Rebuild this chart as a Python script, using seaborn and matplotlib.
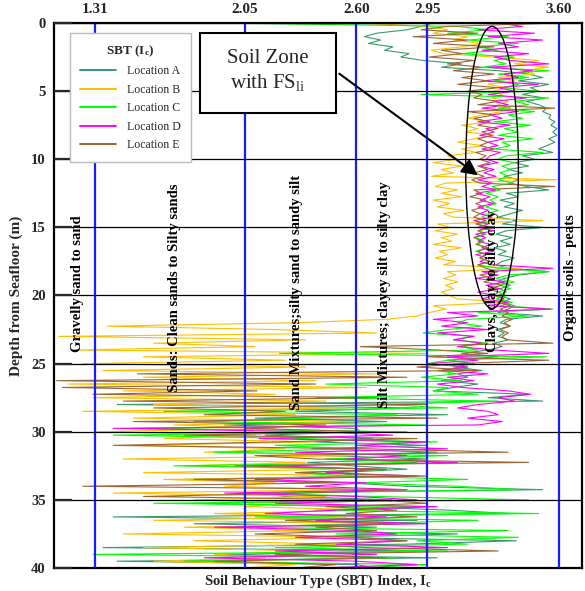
import pandas as pd
import numpy as np
import matplotlib
matplotlib.use("Agg")
import matplotlib.pyplot as plt
import matplotlib.patches as patches
import seaborn as sns

# ---------------------------------------------
# Data (SBT index vs depth)
# ---------------------------------------------
depth = [
    0.0, 0.25, 0.5, 0.75, 1.0, 1.25, 1.5, 1.75,
    2.0, 2.25, 2.5, 2.75, 3.0, 3.25, 3.5, 3.75,
    4.0, 4.25, 4.5, 4.75, 5.0, 5.25, 5.5, 5.75,
    6.0, 6.25, 6.5, 6.75, 7.0, 7.25, 7.5, 7.75,
    8.0, 8.25, 8.5, 8.75, 9.0, 9.25, 9.5, 9.75,
    10.0, 10.25, 10.5, 10.75, 11.0, 11.25, 11.5, 11.75,
    12.0, 12.25, 12.5, 12.75, 13.0, 13.25, 13.5, 13.75,
    14.0, 14.25, 14.5, 14.75, 15.0, 15.25, 15.5, 15.75,
    16.0, 16.25, 16.5, 16.75, 17.0, 17.25, 17.5, 17.75,
    18.0, 18.25, 18.5, 18.75, 19.0, 19.25, 19.5, 19.75,
    20.0, 20.25, 20.5, 20.75, 21.0, 21.25, 21.5, 21.75,
    22.0, 22.25, 22.5, 22.75, 23.0, 23.25, 23.5, 23.75,
    24.0, 24.25, 24.5, 24.75, 25.0, 25.25, 25.5, 25.75,
    26.0, 26.25, 26.5, 26.75, 27.0, 27.25, 27.5, 27.75,
    28.0, 28.25, 28.5, 28.75, 29.0, 29.25, 29.5, 29.75,
    30.0, 30.25, 30.5, 30.75, 31.0, 31.25, 31.5, 31.75,
    32.0, 32.25, 32.5, 32.75, 33.0, 33.25, 33.5, 33.75,
    34.0, 34.25, 34.5, 34.75, 35.0, 35.25, 35.5, 35.75,
    36.0, 36.25, 36.5, 36.75, 37.0, 37.25, 37.5, 37.75,
    38.0, 38.25, 38.5, 38.75, 39.0, 39.25, 39.5, 39.75,
    40.0,
]

loc_a = [
    2.98, 2.92, 2.85, 2.70, 2.64, 2.72, 2.66, 2.78,
    2.74, 2.86, 2.82, 2.93, 3.12, 3.02, 3.30, 3.45,
    3.52, 3.40, 3.55, 3.46, 3.50, 3.42, 3.53, 3.44,
    3.50, 3.54, 3.52, 3.56, 3.55, 3.58, 3.56, 3.59,
    3.57, 3.59, 3.55, 3.58, 3.54, 3.50, 3.57, 3.42,
    3.48, 3.38, 3.45, 3.35, 3.42, 3.33, 3.40, 3.36,
    3.44, 3.55, 3.34, 3.40, 3.31, 3.38, 3.33, 3.42,
    3.36, 3.30, 3.39, 3.32, 3.52, 3.34, 3.29, 3.37,
    3.31, 3.36, 3.28, 3.34, 3.30, 3.38, 3.32, 3.29,
    3.35, 3.55, 3.40, 3.33, 3.30, 3.36, 3.31, 3.34,
    3.30, 3.36, 3.32, 3.38, 3.35, 3.30, 3.52, 3.34,
    3.31, 3.36, 3.29, 3.33, 3.30, 3.35, 3.28, 3.32,
    3.25, 3.12, 3.30, 3.05, 3.18, 3.08, 3.22, 3.10,
    3.15, 3.02, 3.20, 3.08, 2.98, 3.45, 3.25, 3.52,
    1.42, 2.90, 2.30, 3.05, 2.10, 2.75, 1.95, 2.60,
    2.62, 2.15, 2.68, 2.40, 2.95, 2.38, 3.00, 2.45,
    2.95, 2.36, 2.58, 2.85, 2.50, 2.62, 1.75, 2.55,
    2.85, 3.52, 2.10, 2.25, 2.78, 1.80, 2.60, 3.05,
    3.36, 1.40, 2.90, 1.80, 2.70, 2.20, 3.10, 2.45,
    3.39, 2.85, 1.35, 2.95, 1.90, 3.00, 1.42, 2.60,
    2.70,
]

loc_b = [
    2.62, 2.95, 3.05, 2.98, 3.15, 3.08, 3.22, 3.12,
    2.97, 3.03, 3.28, 3.50, 3.38, 3.55, 3.42, 3.48,
    3.30, 3.38, 3.25, 3.34, 3.28, 3.32, 3.27, 3.35,
    3.30, 3.36, 3.32, 3.22, 3.15, 3.26, 3.12, 3.20,
    3.14, 3.28, 3.18, 3.10, 3.22, 3.12, 3.19, 3.05,
    3.10, 2.98, 3.12, 3.02, 3.08, 2.97, 3.59, 3.04,
    2.99, 3.10, 3.02, 3.12, 2.98, 3.06, 3.00, 3.13,
    3.03, 3.08, 3.52, 3.00, 3.06, 2.99, 3.10, 3.02,
    3.07, 2.98, 3.12, 3.01, 3.05, 2.99, 3.09, 3.03,
    3.41, 3.05, 3.09, 3.03, 3.10, 3.04, 3.08, 3.02,
    3.06, 3.10, 3.34, 2.98, 3.04, 2.96, 2.90, 2.75,
    2.30, 1.37, 2.20, 2.70, 1.13, 2.35, 1.60, 2.10,
    1.20, 2.95, 1.55, 2.25, 1.25, 2.35, 1.35, 2.70,
    1.55, 2.40, 1.18, 2.65, 1.45, 2.20, 1.30, 2.45,
    1.60, 2.55, 1.25, 2.30, 1.50, 2.60, 1.70, 2.20,
    1.32, 2.10, 1.65, 2.40, 1.50, 2.25, 1.85, 2.60,
    1.45, 2.35, 1.75, 2.50, 1.55, 2.80, 1.65, 2.20,
    1.95, 2.60, 1.40, 2.45, 1.80, 2.30, 2.05, 2.70,
    1.90, 2.55, 1.60, 2.85, 1.75, 2.35, 1.45, 2.65,
    1.80, 2.50, 1.55, 2.40, 1.90, 2.15, 1.60, 2.30,
    2.05,
]

loc_c = [
    1.95, 3.10, 3.25, 3.05, 3.35, 3.15, 3.40, 3.20,
    3.30, 3.12, 3.38, 3.28, 3.34, 3.22, 3.55, 3.30,
    3.45, 3.28, 3.40, 3.32, 3.50, 2.92, 3.55, 3.38,
    3.45, 3.30, 3.48, 3.35, 3.42, 3.28, 3.46, 3.33,
    3.40, 3.30, 3.47, 3.32, 3.36, 3.28, 3.52, 3.34,
    3.30, 3.38, 3.32, 3.36, 3.31, 3.35, 3.30, 3.37,
    3.27, 3.31, 3.24, 3.30, 3.26, 3.29, 3.24, 3.30,
    3.25, 3.22, 3.28, 3.20, 3.26, 3.21, 3.24, 3.19,
    3.23, 3.20, 3.25, 3.19, 3.24, 3.21, 3.26, 3.20,
    3.30, 3.55, 3.35, 3.29, 3.38, 3.31, 3.36, 3.30,
    3.34, 3.29, 3.37, 3.31, 3.57, 3.20, 3.45, 3.15,
    3.10, 3.22, 3.05, 2.93, 3.18, 3.08, 3.25, 3.12,
    3.20, 2.22, 3.54, 3.05, 2.95, 3.15, 3.00, 3.10,
    2.92, 3.12, 2.45, 3.05, 2.98, 3.20, 2.40, 3.30,
    2.75, 3.05, 1.65, 2.80, 2.40, 1.80, 2.95, 1.50,
    2.85, 1.40, 2.35, 3.00, 2.20, 2.60, 1.90, 3.05,
    2.45, 2.90, 1.70, 2.75, 2.30, 2.55, 3.15, 2.60,
    3.10, 3.40, 2.05, 2.70, 3.45, 1.60, 2.95, 2.40,
    3.50, 2.10, 3.20, 2.65, 2.00, 3.35, 2.50, 3.40,
    2.90, 3.15, 2.20, 3.05, 1.30, 2.80, 1.75, 2.95,
    2.60,
]

loc_d = [
    3.30, 3.42, 3.20, 3.48, 3.25, 3.52, 3.30, 3.40,
    3.22, 3.45, 3.28, 3.36, 3.55, 3.25, 3.47, 3.33,
    3.40, 3.22, 3.50, 3.30, 3.38, 3.25, 3.44, 3.28,
    3.35, 3.22, 3.40, 3.26, 3.32, 3.20, 3.36, 3.24,
    3.28, 3.21, 3.33, 3.25, 3.30, 3.22, 3.31, 3.26,
    3.24, 3.30, 3.21, 3.28, 3.23, 3.29, 3.20, 3.27,
    3.22, 3.29, 3.19, 3.26, 3.21, 3.28, 3.20, 3.25,
    3.21, 3.27, 3.18, 3.25, 3.20, 3.28, 3.19, 3.24,
    3.20, 3.26, 3.22, 3.28, 3.19, 3.25, 3.21, 3.27,
    3.57, 3.22, 3.30, 3.19, 3.34, 3.24, 3.31, 3.20,
    3.28, 3.22, 3.35, 3.25, 3.56, 3.05, 3.20, 2.98,
    3.15, 3.02, 3.25, 3.00, 3.18, 3.08, 3.22, 3.10,
    3.28, 3.55, 3.05, 3.20, 2.95, 3.15, 3.02, 3.25,
    3.05, 3.18, 3.00, 3.12, 3.35, 3.46, 3.30, 3.38,
    3.20, 3.10, 3.25, 3.30, 3.15, 3.32, 3.20, 1.40,
    2.40, 2.78, 2.12, 2.95, 2.60, 3.05, 2.30, 2.85,
    2.55, 3.10, 2.20, 2.70, 2.45, 2.90, 2.10, 2.65,
    2.35, 2.85, 1.95, 2.60, 2.90, 2.20, 3.00, 2.50,
    2.15, 2.75, 2.40, 2.95, 1.90, 2.60, 2.80, 2.30,
    2.85, 2.50, 3.05, 2.20, 2.70, 1.85, 2.60, 2.90,
    2.40,
]

loc_e = [
    3.59, 3.05, 2.92, 3.20, 2.88, 3.15, 2.98, 3.28,
    3.02, 3.12, 2.96, 3.18, 3.05, 3.22, 3.08, 3.28,
    3.12, 3.25, 3.10, 3.30, 3.15, 3.22, 3.18, 3.30,
    3.20, 3.58, 3.15, 3.28, 3.18, 3.26, 3.20, 3.30,
    3.22, 3.27, 3.20, 3.25, 3.21, 3.28, 3.19, 3.24,
    3.21, 3.26, 3.20, 3.25, 3.18, 3.23, 3.17, 3.21,
    3.58, 3.18, 3.22, 3.16, 3.24, 3.19, 3.23, 3.17,
    3.21, 3.18, 3.24, 3.19, 3.25, 3.20, 3.23, 3.18,
    3.22, 3.19, 3.25, 3.20, 3.24, 3.21, 3.26, 3.20,
    3.24, 3.30, 3.21, 3.28, 3.23, 3.32, 3.25, 3.30,
    3.28, 3.33, 3.30, 3.36, 3.31, 3.35, 3.32, 3.37,
    3.33, 3.36, 3.31, 3.35, 3.32, 3.34, 3.57, 2.62,
    3.00, 3.25, 2.95, 3.55, 3.10, 2.90, 3.20, 1.52,
    2.85, 1.12, 2.40, 1.15, 2.11, 1.30, 2.70, 1.45,
    2.95, 1.60, 2.25, 1.85, 3.00, 1.50, 2.45, 2.05,
    2.70, 1.75, 2.90, 2.20, 1.40, 2.65, 3.35, 2.10,
    2.40, 3.45, 2.00, 2.75, 2.30, 2.95, 1.80, 2.50,
    1.25, 2.85, 2.35, 1.55, 2.70, 2.95, 2.45, 2.80,
    2.55, 2.90, 2.25, 2.80, 2.40, 2.70, 2.10, 2.60,
    2.85, 2.30, 2.65, 3.30, 2.20, 2.75, 1.90, 2.50,
    2.30,
]

locations = ["Location A", "Location B", "Location C", "Location D", "Location E"]
colors = ["#3a9a6c", "#ffc000", "#00ff00", "#ff00ff", "#9c6633"]

# SBT zone boundaries (top axis) and zone names
sbt_bounds = [1.31, 2.05, 2.60, 2.95, 3.60]
sbt_bound_labels = ["1.31", "2.05", "2.60", "2.95", "3.60"]
depth_ticks = [0, 5, 10, 15, 20, 25, 30, 35, 40]

zone_names = [
    "Gravelly sand to sand",
    "Sands: Clean sands to Silty sands",
    "Sand Mixtures;silty sand to sandy silt",
    "Silt Mixtures; clayey silt to silty clay",
    "Clays, clay to silty clay",
    "Organic soils - peats",
]
zone_x = [1.225, 1.705, 2.305, 2.74, 3.27, 3.655]
zone_depth = [19.1, 19.4, 19.8, 19.9, 18.9, 18.7]

# ---------------------------------------------
# Long-form frame for seaborn
# ---------------------------------------------
frames = []
for name, vals in zip(locations, [loc_a, loc_b, loc_c, loc_d, loc_e]):
    frames.append(pd.DataFrame({"depth": depth, "sbt": vals, "location": name}))
df = pd.concat(frames, ignore_index=True)

# ---------------------------------------------
# Style
# ---------------------------------------------
sns.set_style("white")
plt.rcParams["font.family"] = ["Liberation Serif", "DejaVu Serif"]
plt.rcParams["mathtext.default"] = "regular"

fig = plt.figure(figsize=(5.85, 5.91), dpi=100)
ax = fig.add_axes([0.0923, 0.0389, 0.9026, 0.9222])

sns.lineplot(
    data=df, x="sbt", y="depth", hue="location",
    hue_order=locations, palette=colors,
    sort=False, estimator=None, orient="y",
    linewidth=0.8, ax=ax,
)

ax.set_xlim(1.108, 3.714)
ax.set_ylim(40, 0)

# top axis ticks = zone boundaries, drawn as blue grid lines
ax.xaxis.tick_top()
ax.set_xticks(sbt_bounds)
ax.set_xticklabels(sbt_bound_labels, fontweight="bold", fontsize=11)
ax.tick_params(axis="x", length=0, pad=5)
ax.xaxis.grid(True, color="#1a1aff", linewidth=1.6)

ax.set_yticks(depth_ticks)
ax.set_yticklabels([str(t) for t in depth_ticks], fontweight="bold", fontsize=10.5)
ax.tick_params(axis="y", direction="in", length=13, width=1.6, pad=6, left=True)
ax.yaxis.grid(True, color="black", linewidth=0.9)
ax.set_axisbelow(False)

for s in ax.spines.values():
    s.set_color("black")
    s.set_linewidth(1.6)

ax.set_xlabel("Soil Behaviour Type (SBT) Index, I$_c$", fontweight="bold", fontsize=10.5, labelpad=3)
ax.set_ylabel("Depth from Seafloor (m)", fontweight="bold", fontsize=11, labelpad=6)

# zone names
for name, zx, zd in zip(zone_names, zone_x, zone_depth):
    ax.text(zx, zd, name, rotation=90, ha="center", va="center",
            fontsize=10.5, fontweight="bold", color="black", zorder=4)

# legend
sns.move_legend(
    ax, "upper left", bbox_to_anchor=(0.030, 0.982), borderaxespad=0,
    title="SBT (I$_c$)", title_fontproperties={"weight": "bold", "size": 9.5},
    fontsize=8.5, frameon=True, fancybox=False, edgecolor="#bbbbbb",
    framealpha=1, handlelength=3.0, labelspacing=0.55, borderpad=0.9,
    handletextpad=0.9,
)
leg = ax.get_legend()
leg.set_zorder(6)
for line in leg.get_lines():
    line.set_linewidth(1.4)

# highlighted zone: ellipse + label box + arrow
ax.add_patch(patches.Ellipse((3.27, 10.6), 0.26, 20.7, fill=False,
                             edgecolor="black", linewidth=1.0, zorder=5))
ax.add_patch(patches.Rectangle((0.2765, 0.835), 0.2575, 0.1467, transform=ax.transAxes,
                               facecolor="white", edgecolor="black", linewidth=1.5, zorder=6))
ax.text(0.405, 0.911, "Soil Zone\nwith FS$_{li}$", transform=ax.transAxes,
        ha="center", va="center", fontsize=15, linespacing=1.25, zorder=7)
ax.annotate("", xy=(3.211, 11.3), xytext=(2.505, 3.6),
            arrowprops=dict(arrowstyle="-|>", color="black", lw=1.5, mutation_scale=24),
            zorder=7)

plt.savefig("out.png", dpi=100)
